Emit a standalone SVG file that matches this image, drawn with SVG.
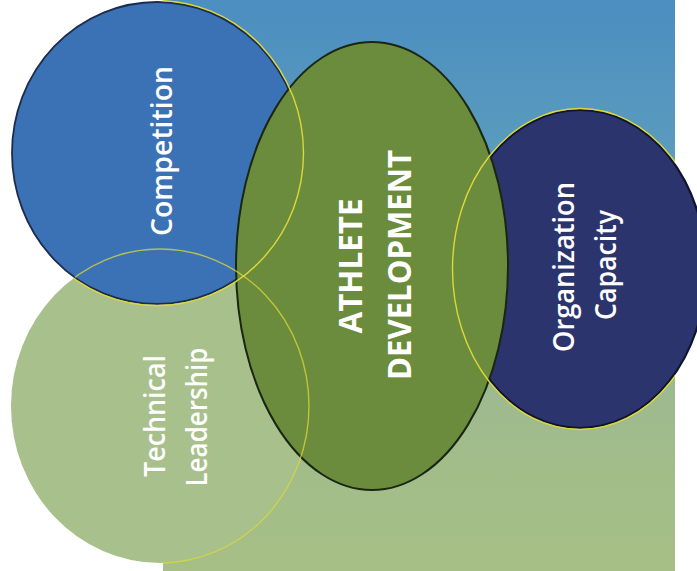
<svg xmlns="http://www.w3.org/2000/svg" width="697" height="571" viewBox="0 0 697 571">
  <defs>
    <linearGradient id="bg" x1="0" y1="0" x2="0" y2="1">
      <stop offset="0" stop-color="#4b8ec0"/>
      <stop offset="0.3" stop-color="#5c9dbd"/>
      <stop offset="0.48" stop-color="#7aacb0"/>
      <stop offset="0.62" stop-color="#9ab894"/>
      <stop offset="0.8" stop-color="#a2bd8a"/>
      <stop offset="1" stop-color="#a6bf86"/>
    </linearGradient>
    <clipPath id="clipComp">
      <rect x="163" y="0" width="512" height="571"/>
      <ellipse cx="160" cy="406" rx="149" ry="157"/>
    </clipPath>
    <clipPath id="clipTech">
      <rect x="163" y="0" width="512" height="571"/>
      <ellipse cx="157" cy="153" rx="145" ry="151"/>
    </clipPath>
    <clipPath id="clipOrg">
      <rect x="163" y="0" width="512" height="571"/>
    </clipPath>
    <style>
      .lbl { fill: #ffffff; font-family: "Open Sans", "DejaVu Sans", sans-serif; font-size: 28px; font-weight: 600; text-anchor: middle; }
      .big { fill: #ffffff; font-family: "Open Sans", "DejaVu Sans", sans-serif; font-size: 32px; font-weight: 700; text-anchor: middle; }
      .yl { fill: none; stroke: #dcd83a; stroke-width: 1.4; }
    </style>
  </defs>

  <rect x="0" y="0" width="697" height="571" fill="#ffffff"/>
  <rect id="background" x="163" y="0" width="512" height="571" fill="url(#bg)"/>

  <g id="technical-leadership-shape">
    <ellipse cx="160" cy="406" rx="149" ry="157" fill="#a8c08b"/>
  </g>
  <g id="competition-shape">
    <ellipse cx="157" cy="153" rx="145" ry="151" fill="#3b72b5" stroke="#1c2c4e" stroke-width="1.8"/>
  </g>
  <g id="organization-capacity-shape">
    <ellipse cx="580" cy="269" rx="126" ry="159" fill="#2b346d" stroke="#0f1430" stroke-width="2.2"/>
  </g>
  <g id="athlete-development-shape">
    <ellipse cx="372" cy="266" rx="136" ry="224" fill="#6a8c3c" stroke="#1b2612" stroke-width="2"/>
  </g>

  <g id="outlines">
    <ellipse class="yl" cx="157" cy="153" rx="146.5" ry="152.5" clip-path="url(#clipComp)"/>
    <ellipse class="yl" cx="160" cy="406" rx="149" ry="157" clip-path="url(#clipTech)" opacity="0.75"/>
    <ellipse class="yl" cx="580" cy="269" rx="127.5" ry="160.5" clip-path="url(#clipOrg)"/>
  </g>

  <g id="connectors"/>

  <g id="competition">
    <text class="lbl" transform="translate(172,151) rotate(-90)" textLength="170" lengthAdjust="spacingAndGlyphs">Competition</text>
  </g>
  <g id="technical-leadership">
    <text class="lbl" transform="translate(165,416) rotate(-90)" textLength="122" lengthAdjust="spacingAndGlyphs">Technical</text>
    <text class="lbl" transform="translate(207,417) rotate(-90)" textLength="139" lengthAdjust="spacingAndGlyphs">Leadership</text>
  </g>
  <g id="athlete-development">
    <text class="big" transform="translate(362,266) rotate(-90)" textLength="135" lengthAdjust="spacingAndGlyphs">ATHLETE</text>
    <text class="big" transform="translate(411,265) rotate(-90)" textLength="230" lengthAdjust="spacingAndGlyphs">DEVELOPMENT</text>
  </g>
  <g id="organization-capacity">
    <text class="lbl" transform="translate(574,267) rotate(-90)" textLength="170" lengthAdjust="spacingAndGlyphs">Organization</text>
    <text class="lbl" transform="translate(616,265) rotate(-90)" textLength="110" lengthAdjust="spacingAndGlyphs">Capacity</text>
  </g>
</svg>
